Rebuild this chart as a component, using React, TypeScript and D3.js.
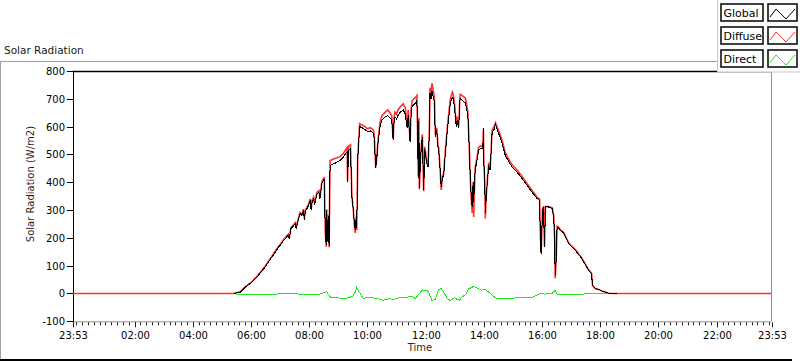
import React from "react";
import * as d3 from "d3";

// ---------- data (time "HH:MM", value W/m2) ----------
const globalData: [string, number][] = [
  ["05:24",0],["05:27",1],["05:38",5],["05:48",22],["06:02",41],["06:15",65],["06:29",95],["06:43",131],["06:57",167],["07:03",180],["07:07",191],["07:12",200],["07:15",206],["07:17",209],["07:19",197],["07:22",233],["07:26",240],["07:31",251],["07:33",233],["07:36",255],["07:41",287],["07:45",280],["07:48",299],["07:50",265],["07:52",295],["07:57",310],["08:02",335],["08:04",300],["08:06",330],["08:09",341],["08:11",320],["08:16",359],["08:20",365],["08:22",340],["08:26",395],["08:31",413],["08:33",227],["08:35",173],["08:36",300],["08:38",190],["08:39",280],["08:41",170],["08:43",461],["08:48",465],["08:53",468],["09:04",479],["09:10",490],["09:16",505],["09:18",508],["09:19",401],["09:21",515],["09:25",520],["09:28",347],["09:31",300],["09:33",250],["09:35",227],["09:37",280],["09:38",235],["09:40",486],["09:44",600],["09:50",595],["09:55",590],["10:00",582],["10:06",585],["10:12",577],["10:14",560],["10:17",450],["10:19",480],["10:22",545],["10:26",600],["10:30",623],["10:37",635],["10:42",640],["10:47",630],["10:50",625],["10:53",551],["10:55",620],["10:57",635],["11:00",628],["11:03",640],["11:08",653],["11:14",660],["11:18",645],["11:22",594],["11:24",640],["11:28",545],["11:30",640],["11:32",671],["11:36",680],["11:39",685],["11:42",695],["11:45",414],["11:46",620],["11:47",378],["11:50",500],["11:53",563],["11:56",371],["11:58",520],["12:02",470],["12:05",454],["12:08",600],["12:09",720],["12:11",700],["12:13",728],["12:16",705],["12:18",690],["12:20",563],["12:23",587],["12:25",530],["12:27",515],["12:30",443],["12:32",383],["12:35",420],["12:37",420],["12:40",491],["12:45",594],["12:47",623],["12:51",685],["12:55",705],["12:57",700],["13:00",659],["13:03",600],["13:05",623],["13:08",594],["13:11",700],["13:15",695],["13:18",690],["13:22",685],["13:25",660],["13:27",640],["13:29",563],["13:32",419],["13:34",350],["13:36",311],["13:38",400],["13:39",330],["13:42",443],["13:46",480],["13:49",515],["13:53",520],["13:56",522],["13:58",520],["13:59",594],["14:00",470],["14:02",396],["14:03",288],["14:05",350],["14:07",396],["14:10",460],["14:13",443],["14:17",577],["14:21",590],["14:24",608],["14:28",585],["14:34",560],["14:40",525],["14:44",497],["14:50",478],["14:58",455],["15:08",437],["15:19",413],["15:29",389],["15:39",365],["15:50",341],["15:55",335],["15:56",239],["15:58",143],["16:01",299],["16:03",311],["16:05",167],["16:07",311],["16:13",311],["16:21",305],["16:24",275],["16:26",200],["16:27",65],["16:29",120],["16:31",239],["16:34",235],["16:38",227],["16:45",216],["16:55",179],["17:09",155],["17:22",125],["17:36",83],["17:42",71],["17:44",29],["17:50",17],["17:56",15],["18:04",8],["18:11",5],["18:17",1],["18:34",0]
];

const diffuseData: [string, number][] = [
  ["23:53",0],["05:24",0],["05:27",2],["05:38",6],["05:48",24],["06:02",43],["06:15",67],["06:29",98],["06:43",134],["06:57",170],["07:03",183],["07:07",194],["07:12",203],["07:15",209],["07:17",213],["07:19",200],["07:22",236],["07:26",244],["07:31",255],["07:33",236],["07:36",259],["07:41",291],["07:45",284],["07:48",303],["07:50",268],["07:52",299],["07:57",314],["08:02",340],["08:04",304],["08:06",335],["08:09",346],["08:11",324],["08:16",364],["08:20",370],["08:22",345],["08:26",401],["08:31",418],["08:33",225],["08:35",168],["08:36",302],["08:38",185],["08:39",283],["08:41",166],["08:43",478],["08:48",482],["08:53",485],["09:04",492],["09:10",503],["09:16",520],["09:18",525],["09:19",405],["09:21",530],["09:25",535],["09:28",350],["09:31",298],["09:33",245],["09:35",218],["09:37",278],["09:38",228],["09:40",490],["09:44",610],["09:50",605],["09:55",600],["10:00",592],["10:06",596],["10:12",588],["10:14",570],["10:17",452],["10:19",485],["10:22",555],["10:26",615],["10:30",640],["10:37",652],["10:42",660],["10:47",648],["10:50",640],["10:53",555],["10:55",635],["10:57",652],["11:00",645],["11:03",660],["11:08",672],["11:14",682],["11:18",668],["11:22",600],["11:24",660],["11:28",548],["11:30",660],["11:32",692],["11:36",700],["11:39",705],["11:42",712],["11:45",418],["11:46",630],["11:47",375],["11:50",508],["11:53",572],["11:56",368],["11:58",528],["12:02",478],["12:05",460],["12:08",612],["12:09",740],["12:11",722],["12:13",756],["12:16",725],["12:18",708],["12:20",570],["12:23",596],["12:25",538],["12:27",522],["12:30",440],["12:32",372],["12:35",425],["12:37",428],["12:40",500],["12:45",604],["12:47",636],["12:51",700],["12:55",724],["12:57",716],["13:00",675],["13:03",610],["13:05",636],["13:08",600],["13:11",716],["13:15",712],["13:18",708],["13:22",702],["13:25",675],["13:27",652],["13:29",568],["13:32",415],["13:34",340],["13:36",290],["13:38",402],["13:39",275],["13:42",450],["13:46",490],["13:49",525],["13:53",530],["13:56",530],["13:58",528],["13:59",590],["14:00",475],["14:02",392],["14:03",270],["14:05",352],["14:07",402],["14:10",470],["14:13",448],["14:17",588],["14:21",600],["14:24",614],["14:28",595],["14:34",570],["14:40",535],["14:44",507],["14:50",487],["14:58",463],["15:08",445],["15:19",421],["15:29",396],["15:39",371],["15:50",346],["15:55",339],["15:56",242],["15:58",145],["16:01",301],["16:03",314],["16:05",170],["16:07",313],["16:13",313],["16:21",308],["16:24",278],["16:26",195],["16:27",55],["16:29",118],["16:31",242],["16:34",238],["16:38",229],["16:45",218],["16:55",181],["17:09",157],["17:22",127],["17:36",85],["17:42",73],["17:44",30],["17:50",17],["17:56",15],["18:04",8],["18:11",5],["18:17",1],["18:34",0],["23:53",0]
];

const directData: [string, number][] = [
  ["23:53",0],["05:24",0],["05:30",-2],["06:00",-3],["06:30",-3],["07:10",-1],["07:40",-2],["08:00",-4],["08:20",-3],["08:33",4],["08:36",7],["08:40",-5],["08:45",-15],["09:00",-16],["09:15",-18],["09:30",-10],["09:35",5],["09:38",23],["09:42",8],["09:51",-17],["10:05",-14],["10:20",-18],["10:32",-25],["10:45",-18],["10:53",-22],["11:05",-15],["11:20",-14],["11:32",-10],["11:39",-19],["11:44",-7],["11:50",6],["11:53",11],["12:03",10],["12:06",5],["12:13",-25],["12:20",-20],["12:27",15],["12:32",18],["12:37",5],["12:45",-19],["12:51",-25],["13:00",-15],["13:05",-22],["13:10",-24],["13:15",-12],["13:22",-5],["13:29",17],["13:35",22],["13:39",25],["13:45",20],["13:55",12],["14:02",15],["14:10",5],["14:20",-10],["14:24",-16],["14:40",-19],["15:00",-17],["15:20",-14],["15:40",-14],["15:56",0],["16:05",-2],["16:20",-1],["16:27",11],["16:31",-2],["16:45",-4],["17:10",-3],["17:40",-1],["17:52",0],["23:53",0]
];

const xTickLabels = ["23:53","02:00","04:00","06:00","08:00","10:00","12:00","14:00","16:00","18:00","20:00","22:00","23:53"];
const yTickValues = [-100, 0, 100, 200, 300, 400, 500, 600, 700, 800];
const seriesNames = ["Global", "Diffuse", "Direct"];
const seriesColors = ["#000000", "#ff3030", "#1fe61f"];

// ---------- helpers ----------
function toMinutes(s: string, i: number): number {
  const [h, m] = s.split(":").map(Number);
  let v = h * 60 + m;
  if (i === 0 && v > 720) v -= 1440; // first point belongs to the previous day
  return v;
}

const W = 800, H = 361;
const plot = { left: 73, right: 771.5, top: 71, bottom: 321.3 };
const FONT = "DejaVu Sans, Tahoma, sans-serif";

export default function App() {
  const x = d3.scaleLinear().domain([-7, 1433]).range([plot.left, plot.right]);
  const y = d3.scaleLinear().domain([-100, 800]).range([plot.bottom, plot.top]);

  const line = d3.line<[string, number]>()
    .x((d, i) => x(toMinutes(d[0], i)))
    .y((d) => y(d[1]));

  const minorTicks = d3.range(0, 1440, 12);

  const legendRowY = [4, 27, 50];

  return (
    <svg width={W} height={H} style={{ position: "absolute", left: 0, top: 0, background: "#fff" }}
      fontFamily={FONT}>
      <rect x={0} y={0} width={W} height={H} fill="#fff" />
      {/* outer panel */}
      <line x1={0} x2={717} y1={61.5} y2={61.5} stroke="#a0a0a0" />
      <line x1={0.5} x2={0.5} y1={61.5} y2={H} stroke="#a0a0a0" />
      <rect x={0} y={359} width={792} height={2} fill="#000" />
      <text x={4} y={54} fontSize={10.5} fill="#1a1a1a">Solar Radiation</text>

      {/* plot frame */}
      <line x1={plot.left} x2={plot.right} y1={71.5} y2={71.5} stroke="#000" strokeWidth={1.5} />
      <line x1={plot.right} x2={plot.right} y1={71.5} y2={plot.bottom} stroke="#909090" />
      <line x1={plot.left} x2={plot.right} y1={plot.bottom + 0.5} y2={plot.bottom + 0.5} stroke="#909090" />
      <line x1={plot.left + 0.5} x2={plot.left + 0.5} y1={71} y2={plot.bottom + 1} stroke="#000" />

      {/* y ticks */}
      {yTickValues.map((v) => (
        <g key={v}>
          <line x1={67} x2={73} y1={Math.round(y(v)) + 0.5} y2={Math.round(y(v)) + 0.5} stroke="#000" />
          <text x={65} y={Math.round(y(v)) + 4} textAnchor="end" fontSize={10} fill="#000">{v}</text>
        </g>
      ))}
      <text transform={`translate(34,184) rotate(-90)`} textAnchor="middle" fontSize={10} fill="#3a1a1a">
        Solar Radiation (W/m2)
      </text>

      {/* x ticks */}
      {minorTicks.map((m) => (
        <line key={"m" + m} x1={Math.round(x(m)) + 0.5} x2={Math.round(x(m)) + 0.5}
          y1={plot.bottom + 1} y2={plot.bottom + 4} stroke="#202020" />
      ))}
      {xTickLabels.map((lab, i) => {
        const px = Math.round(x(toMinutes(lab, i))) + 0.5;
        return (
          <g key={"M" + i}>
            <line x1={px} x2={px} y1={plot.bottom + 1} y2={plot.bottom + 6} stroke="#202020" />
            <text x={px} y={339} textAnchor="middle" fontSize={10} fill="#000">{lab}</text>
          </g>
        );
      })}
      <text x={420} y={351} textAnchor="middle" fontSize={10} fill="#3a1a1a">Time</text>

      {/* series: Direct, Diffuse, Global (global on top) */}
      <path d={line(directData) || ""} fill="none" stroke={seriesColors[2]} strokeWidth={1} shapeRendering="crispEdges" />
      <path d={line(diffuseData) || ""} fill="none" stroke={seriesColors[1]} strokeWidth={1.6} />
      <path d={line(globalData) || ""} fill="none" stroke={seriesColors[0]} strokeWidth={1} shapeRendering="crispEdges" />

      {/* legend */}
      <rect x={717.5} y={-1} width={84} height={73} fill="#fbfbfb" stroke="#c8c8c8" />
      {seriesNames.map((name, i) => {
        const ry = legendRowY[i];
        const sx = 768, sw = 29, sh = 17;
        const zig: [number, number][] = [
          [sx + 2, ry + 13], [sx + 8, ry + 5], [sx + 18, ry + 15], [sx + 27, ry + 5],
        ];
        return (
          <g key={name}>
            <rect x={721} y={ry} width={42} height={sh} fill="#fff" stroke="#111" strokeWidth={1.6} />
            <text x={723.5} y={ry + 13} fontSize={11} fill="#000">{name}</text>
            <rect x={sx} y={ry} width={sw} height={sh} fill="#fff" stroke="#111" strokeWidth={1.6} />
            <path d={d3.line()(zig) || ""} fill="none" stroke={seriesColors[i]} strokeWidth={1} />
          </g>
        );
      })}
    </svg>
  );
}
